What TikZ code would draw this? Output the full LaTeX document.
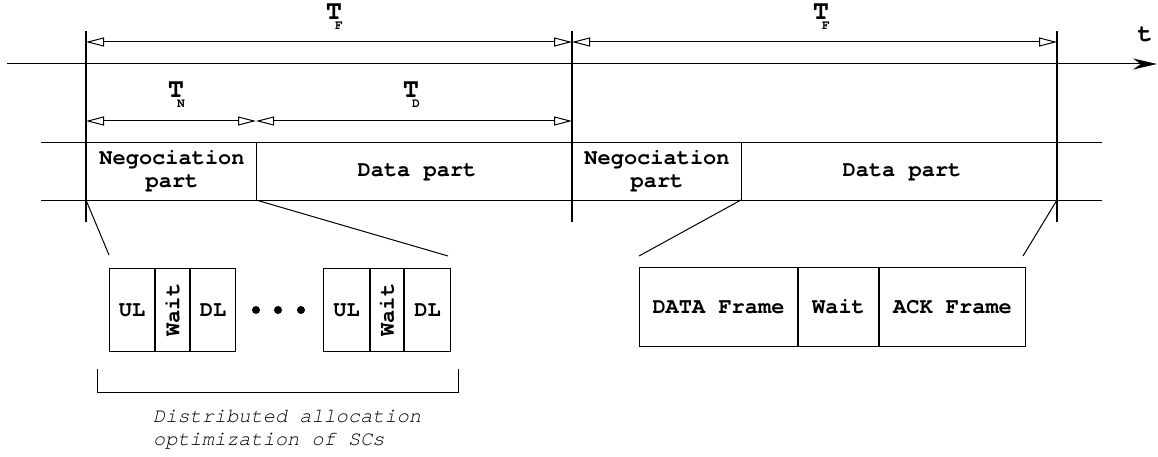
\documentclass[tikz,border=0pt]{standalone}
\usepackage{fontspec}
\setmonofont{TeX Gyre Cursor}
\usetikzlibrary{arrows.meta}
\begin{document}
\begin{tikzpicture}[x=1pt,y=-1pt,
  thinline/.style={line width=1pt},
  thickline/.style={line width=2pt},
  dimarrow/.style={line width=1pt,{Triangle[open,length=18pt,width=9pt,line width=1pt]}-{Triangle[open,length=18pt,width=9pt,line width=1pt]}},
  bandtxt/.style={font=\ttfamily\bfseries\fontsize{22}{23}\selectfont,align=center,inner sep=0pt},
  bigT/.style={font=\ttfamily\bfseries\fontsize{27}{27}\selectfont,inner sep=0pt,text depth=0pt},
  subT/.style={font=\ttfamily\bfseries\fontsize{13}{13}\selectfont,inner sep=0pt,text height=7pt},
  cell/.style={draw,line width=1pt,inner sep=0pt,anchor=north west,font=\ttfamily\bfseries\fontsize{22}{23}\selectfont},
  dot/.style={circle,fill=black,inner sep=0pt,minimum size=8pt}
]
\useasboundingbox (0,0) rectangle (1158,457);
% time axis
\coordinate (ax0) at (7,64);
\coordinate (ax1) at (1157,64);
\draw[thinline,-{Stealth[length=24pt,width=11pt]}] (ax0) -- (ax1);
\node[font=\ttfamily\bfseries\fontsize{25}{25}\selectfont,inner sep=0pt,anchor=base] (tl) at (1145,42) {t};
% vertical lines
\foreach \n/\x in {a/86,b/572,c/1057}{
  \coordinate (\n top) at (\x,31);
  \coordinate (\n bot) at (\x,222);
  \coordinate (\n F) at (\x,42);
  \coordinate (\n N) at (\x,121);
  \coordinate (\n band) at (\x,200);
  \draw[thickline] (\n top) -- (\n bot);
}
\coordinate (mN) at (256,121);
% dimension arrows
\draw[dimarrow] (aF) -- (bF);
\draw[dimarrow] (bF) -- (cF);
\draw[dimarrow] (aN) -- (mN);
\draw[dimarrow] (mN) -- (bN);
% labels T_x
\foreach \nm/\x/\y/\s in {tfa/334/20/F,tfb/821/20/F,tn/176/98/N,td/411/98/D}{
  \node[bigT,anchor=base] (\nm) at (\x,\y) {T};
  \node[subT,anchor=base] (\nm s) at (\x+5,\y+10) {\s};
}
% band
\coordinate (bl1) at (41,143); \coordinate (br1) at (1102,143);
\coordinate (bl2) at (41,200); \coordinate (br2) at (1102,200);
\draw[thinline] (bl1) -- (br1);
\draw[thinline] (bl2) -- (br2);
\coordinate (d1t) at (256,143); \coordinate (d1b) at (256,200);
\coordinate (d2t) at (741,143); \coordinate (d2b) at (741,200);
\draw[thinline] (d1t) -- (d1b);
\draw[thinline] (d2t) -- (d2b);
\node[bandtxt] (neg1) at (172,171) {Negociation\\part};
\node[bandtxt] (dat1) at (417,172) {Data part};
\node[bandtxt] (neg2) at (657,171) {Negociation\\part};
\node[bandtxt] (dat2) at (902,172) {Data part};
% left detail
\node[cell,minimum width=45pt,minimum height=83pt] (ul1) at (109,268) {UL};
\node[cell,minimum width=34pt,minimum height=83pt] (w1) at (ul1.north east) {};
\node[cell,minimum width=45pt,minimum height=83pt] (dl1) at (w1.north east) {DL};
\node[font=\ttfamily\bfseries\fontsize{22}{23}\selectfont,rotate=90,inner sep=0pt] at (w1) {Wait};
\node[cell,minimum width=46pt,minimum height=83pt] (ul2) at (323,268) {UL};
\node[cell,minimum width=33pt,minimum height=83pt] (w2) at (ul2.north east) {};
\node[cell,minimum width=46pt,minimum height=83pt] (dl2) at (w2.north east) {DL};
\node[font=\ttfamily\bfseries\fontsize{22}{23}\selectfont,rotate=90,inner sep=0pt] at (w2) {Wait};
\node[dot] (p1) at (256,310) {};
\node[dot] (p2) at (278,310) {};
\node[dot] (p3) at (301,310) {};
\coordinate (z1) at (109,255);
\coordinate (z2) at (448,256);
\draw[thinline] (aband) -- (z1);
\draw[thinline] (d1b) -- (z2);
% bracket
\coordinate (k1) at (97,369); \coordinate (k2) at (97,392);
\coordinate (k3) at (458,392); \coordinate (k4) at (458,369);
\draw[thinline] (k1) -- (k2) -- (k3) -- (k4);
\node[font=\ttfamily\itshape\fontsize{20.3}{23}\selectfont,align=left,anchor=north west,inner sep=0pt] (cap) at (153,410) {Distributed allocation\\optimization of SCs};
% right detail
\node[cell,minimum width=158pt,minimum height=79pt] (df) at (639,267) {DATA Frame};
\node[cell,minimum width=80pt,minimum height=79pt] (wt) at (df.north east) {Wait};
\node[cell,minimum width=146pt,minimum height=79pt] (ack) at (wt.north east) {ACK Frame};
\coordinate (z3) at (639,256);
\coordinate (z4) at (1023,256);
\draw[thinline] (d2b) -- (z3);
\draw[thinline] (cband) -- (z4);
\end{tikzpicture}
\end{document}
